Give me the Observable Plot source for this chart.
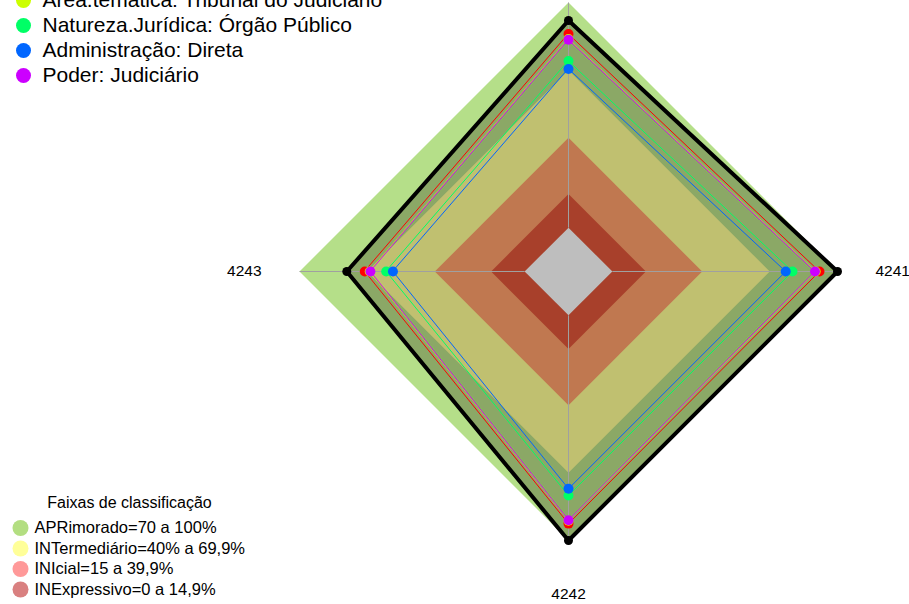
<!DOCTYPE html>
<html>
<head>
<meta charset="utf-8">
<script src="https://cdn.jsdelivr.net/npm/d3@7"></script>
<script src="https://cdn.jsdelivr.net/npm/@observablehq/plot@0.6"></script>
<style>
  html, body { margin: 0; padding: 0; background: #ffffff; }
  #chart { width: 909px; height: 604px; overflow: hidden; }
</style>
</head>
<body>
<div id="chart"></div>
<script>
// ---- Data ----
const categories = ["4240", "4241", "4242", "4243"]; // clockwise from top; top label lies outside the view
const showLabel = [false, true, true, true];

const seriesNames = ["Órgão", "Esfera", "Área.temática: Tribunal do Judiciário", "Natureza.Jurídica: Órgão Público", "Administração: Direta", "Poder: Judiciário"];
const seriesColors = ["#000000", "#FF0000", "#CCFF00", "#00FF66", "#0066FF", "#CC00FF"];
const blackValues   = [92, 100, 100, 79];
const redValues     = [86, 92, 92.5, 71];
const yellowValues  = [83.8, 90.3, 91.2, 68.8];
const greenValues   = [74, 80, 80, 61.5];
const blueValues    = [70.5, 77, 77, 58.5];
const magentaValues = [83.5, 90, 91, 68.5];
const seriesValues = [blackValues, redValues, yellowValues, greenValues, blueValues, magentaValues];

const bandLevels = [100, 69.9, 39.9, 14.9, 0];
const bandColors = ["#B5DF89", "#C0C070", "#C07850", "#A8402B", "#BEBEBE"];
const bandLabels = ["APRimorado=70 a 100%", "INTermediário=40% a 69,9%", "INIcial=15 a 39,9%", "INExpressivo=0 a 14,9%"];
const bandLegendColors = ["#B3DE81", "#FFFF99", "#FF9999", "#D98080"];
const insideBlackFill = "#8BA866";

// ---- Geometry helpers (map values through radial transform) ----
const gap = 0.163;
const rad = v => gap + (1 - gap) * v / 100;
const angle = i => Math.PI / 2 - i * (2 * Math.PI / categories.length);
const polygon = vals => vals.map((v, i) => ({cat: categories[i], x: rad(v) * Math.cos(angle(i)), y: rad(v) * Math.sin(angle(i))}));

const R = 269, cx = 568, cy = 271, W = 909, H = 604;
const font = "'Liberation Sans', Arial, sans-serif";

const marks = [];
// bands
marks.push(Plot.line(polygon(categories.map(() => bandLevels[0])), {x: "x", y: "y", curve: "linear-closed", fill: bandColors[0], stroke: "none"}));
marks.push(Plot.line(polygon(blackValues), {x: "x", y: "y", curve: "linear-closed", fill: insideBlackFill, stroke: "none"}));
for (let b = 1; b < bandLevels.length; b++) {
  marks.push(Plot.line(polygon(categories.map(() => bandLevels[b])), {x: "x", y: "y", curve: "linear-closed", fill: bandColors[b], stroke: "none"}));
}
// axis spokes
const spokes = categories.map((c, i) => ({x1: rad(0) * Math.cos(angle(i)), y1: rad(0) * Math.sin(angle(i)), x2: rad(100) * Math.cos(angle(i)), y2: rad(100) * Math.sin(angle(i))}));
marks.push(Plot.link(spokes, {x1: "x1", y1: "y1", x2: "x2", y2: "y2", stroke: "#A0A0A0", strokeWidth: 1}));

// series
seriesValues.forEach((vals, s) => {
  const pts = polygon(vals);
  marks.push(Plot.line(pts, {x: "x", y: "y", curve: "linear-closed", stroke: seriesColors[s], strokeWidth: s === 0 ? 4 : 1, strokeLinejoin: "miter"}));
});
seriesValues.forEach((vals, s) => {
  const pts = polygon(vals);
  marks.push(Plot.dot(pts, {x: "x", y: "y", r: s === 0 ? 4.5 : 5, fill: seriesColors[s], stroke: "none"}));
});

// axis labels
const labelPts = categories.map((c, i) => ({cat: c, x: 1.205 * Math.cos(angle(i)), y: 1.2 * Math.sin(angle(i))})).filter((d, i) => showLabel[i]);
marks.push(Plot.text(labelPts, {x: "x", y: "y", text: "cat", fontSize: 15.5, fill: "#000", fontFamily: font, lineAnchor: "middle"}));

// series legend (top-left; first entries are cropped by the frame, as in the reference)
const legendStartY = -50, legendStep = 25;
seriesNames.forEach((name, s) => {
  const yy = legendStartY + s * legendStep;
  if (yy < -12) return;
  marks.push(Plot.dot([name], {frameAnchor: "top-left", dx: 23, dy: yy, r: 7.5, fill: seriesColors[s], stroke: "none"}));
  marks.push(Plot.text([name], {frameAnchor: "top-left", dx: 42, dy: yy, text: d => d, textAnchor: "start", lineAnchor: "middle", fontSize: 21, fill: "#000", fontFamily: font}));
});

// band legend (bottom-left)
marks.push(Plot.text(["Faixas de classificação"], {frameAnchor: "top-left", dx: 129, dy: 502, text: d => d, textAnchor: "middle", lineAnchor: "middle", fontSize: 16, fill: "#000", fontFamily: font}));
bandLabels.forEach((lab, b) => {
  const yy = 527.5 + b * 20.5;
  marks.push(Plot.dot([lab], {frameAnchor: "top-left", dx: 20, dy: yy, r: 8, fill: bandLegendColors[b], stroke: "none"}));
  marks.push(Plot.text([lab], {frameAnchor: "top-left", dx: 34, dy: yy, text: d => d, textAnchor: "start", lineAnchor: "middle", fontSize: 16.5, fill: "#000", fontFamily: font}));
});

const chart = Plot.plot({
  width: W,
  height: H,
  margin: 0,
  x: {type: "linear", domain: [-cx / R, (W - cx) / R], range: [0, W], axis: null},
  y: {type: "linear", domain: [-(H - cy) / R, cy / R], range: [H, 0], axis: null},
  style: {fontFamily: font, background: "#ffffff", overflow: "hidden"},
  marks
});
document.getElementById("chart").appendChild(chart);
</script>
</body>
</html>
